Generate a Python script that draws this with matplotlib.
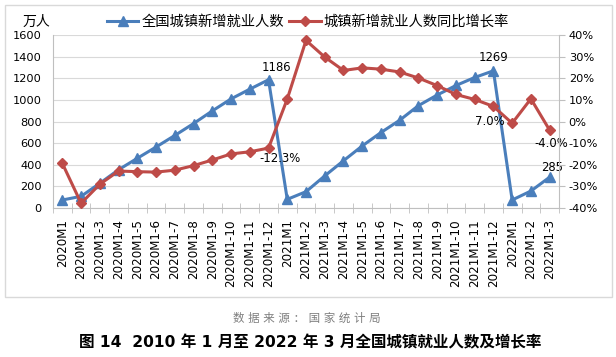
import matplotlib
matplotlib.use('Agg')
import matplotlib.pyplot as plt
from matplotlib.patches import Rectangle
from matplotlib.ticker import FuncFormatter, FixedLocator

plt.rcParams['font.family'] = ['DejaVu Sans', 'Noto Sans CJK SC']

### Data
periods = ['2020M1', '2020M1-2', '2020M1-3', '2020M1-4', '2020M1-5', '2020M1-6', '2020M1-7',
           '2020M1-8', '2020M1-9', '2020M1-10', '2020M1-11', '2020M1-12',
           '2021M1', '2021M1-2', '2021M1-3', '2021M1-4', '2021M1-5', '2021M1-6', '2021M1-7',
           '2021M1-8', '2021M1-9', '2021M1-10', '2021M1-11', '2021M1-12',
           '2022M1', '2022M1-2', '2022M1-3']
new_jobs = [74, 108, 229, 354, 460, 564, 671, 781, 898, 1009, 1099, 1186,
            80, 151, 297, 437, 574, 698, 812, 947, 1045, 1133, 1207, 1269,
            74, 157, 285]
growth = [-19.4, -37.8, -29.0, -22.9, -23.2, -23.4, -22.5, -20.4, -17.8, -15.0, -14.0, -12.3,
          10.4, 37.5, 29.8, 23.6, 24.8, 24.2, 22.9, 20.1, 16.6, 12.5, 10.2, 7.0,
          -0.8, 10.5, -4.0]

# labelled points: index, text, offset in pixels
labels_jobs = [(11, '1186', (8, 12)), (23, '1269', (0, 13)), (26, '285', (2, 10))]
labels_growth = [(11, '-12.3%', (11, -10)), (23, '7.0%', (-4, -15)), (26, '-4.0%', (2, -13))]

blue = '#4A7EBB'
red = '#BE4B48'
grid_c = '#D9D9D9'
axis_c = '#BFBFBF'

fig = plt.figure(figsize=(6.16, 3.57), dpi=100)
fig.patches.append(Rectangle((5 / 616, 1 - 297 / 357), 607 / 616, 292 / 357,
                             transform=fig.transFigure, fill=False,
                             edgecolor='#D9D9D9', linewidth=1))

ax = fig.add_axes([53 / 616, 1 - 208 / 357, 506 / 616, 173 / 357])
x = list(range(len(periods)))

ax.set_xlim(-0.5, len(periods) - 0.5)
ax.set_ylim(0, 1600)
ax.set_yticks(range(0, 1601, 200))
ax.grid(axis='y', color=grid_c, linewidth=0.8, zorder=0)
ax.set_axisbelow(True)
for s in ['top', 'right']:
    ax.spines[s].set_visible(False)
ax.spines['left'].set_color(axis_c)
ax.spines['bottom'].set_color(axis_c)
ax.tick_params(axis='y', length=0, labelsize=8.2, pad=8)
ax.set_xticks(x)
ax.set_xticklabels(periods, rotation=90, fontsize=8.6)
ax.tick_params(axis='x', length=0, pad=8)
ax.xaxis.set_minor_locator(FixedLocator([i - 0.5 for i in range(len(periods) + 1)]))
ax.tick_params(axis='x', which='minor', length=7, direction='inout', color=axis_c)

ax2 = ax.twinx()
ax2.set_ylim(-40, 40)
ax2.set_yticks(range(-40, 41, 10))
ax2.yaxis.set_major_formatter(FuncFormatter(lambda v, p: f'{int(v)}%'))
for s in ['top', 'left', 'bottom']:
    ax2.spines[s].set_visible(False)
ax2.spines['right'].set_color(axis_c)
ax2.tick_params(axis='y', length=4, color=axis_c, labelsize=8.2, pad=3)

l1, = ax.plot(x, new_jobs, color=blue, linewidth=2.2, marker='^', markersize=7,
              label='全国城镇新增就业人数', zorder=3)
l2, = ax2.plot(x, growth, color=red, linewidth=2.2, marker='D', markersize=4.8,
               label='城镇新增就业人数同比增长率', zorder=3)
ax2.set_zorder(ax.get_zorder() + 1)

for i, txt, off in labels_jobs:
    ax.annotate(txt, (x[i], new_jobs[i]), xytext=off, textcoords='offset pixels',
                ha='center', va='center', fontsize=8.4)
for i, txt, off in labels_growth:
    ax2.annotate(txt, (x[i], growth[i]), xytext=off, textcoords='offset pixels',
                 ha='center', va='center', fontsize=8.4, zorder=2)

fig.text(36 / 616, 1 - 22 / 357, '万人', ha='center', va='center', fontsize=10)
fig.legend([l1, l2], [l1.get_label(), l2.get_label()], loc='center',
           bbox_to_anchor=(308 / 616, 1 - 22 / 357), ncol=2, frameon=False,
           fontsize=10.3, handlelength=2.2, handletextpad=0.2, columnspacing=0.4,
           borderpad=0, borderaxespad=0)

fig.text(307 / 616, 1 - 318 / 357, '数 据 来 源 ： 国 家 统 计 局', ha='center', va='center',
         fontsize=8.3, color='#7F7F7F')
fig.text(310 / 616, 1 - 343 / 357, '图 14  2010 年 1 月至 2022 年 3 月全国城镇就业人数及增长率',
         ha='center', va='center', fontsize=11.2, fontweight='bold')

fig.savefig('out.png', dpi=100)
